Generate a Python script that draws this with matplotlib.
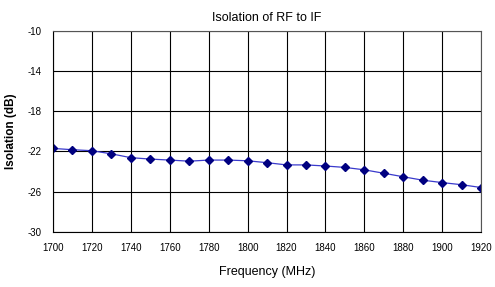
import matplotlib
matplotlib.use('Agg')
import matplotlib.pyplot as plt

freq = [1700, 1710, 1720, 1730, 1740, 1750, 1760, 1770, 1780, 1790, 1800,
        1810, 1820, 1830, 1840, 1850, 1860, 1870, 1880, 1890, 1900, 1910, 1920]
isolation = [-21.7, -21.83, -21.93, -22.24, -22.62, -22.76, -22.86, -22.97, -22.86, -22.86, -22.93,
             -23.12, -23.34, -23.34, -23.45, -23.59, -23.83, -24.17, -24.52, -24.86, -25.1, -25.31, -25.59]
x_ticks = list(range(1700, 1921, 20))
y_ticks = [-30, -26, -22, -18, -14, -10]

plt.rcParams['axes.unicode_minus'] = False
plt.rcParams['font.family'] = ['Liberation Sans', 'DejaVu Sans']

fig = plt.figure(figsize=(4.95, 2.87), dpi=100)
ax = fig.add_axes([0.107, 0.192, 0.865, 0.701])

ax.plot(freq, isolation, color='#3a3acc', linewidth=0.9,
        marker='D', markersize=3.6, markerfacecolor='#000080', markeredgecolor='#000080')

ax.set_xlim(1700, 1920)
ax.set_ylim(-30, -10)
ax.set_xticks(x_ticks)
ax.set_yticks(y_ticks)
ax.grid(True, color='black', linewidth=0.8)
ax.tick_params(length=0, labelsize=7, pad=8)
for s in ax.spines.values():
    s.set_color('#555555')
    s.set_linewidth(0.8)
ax.spines['left'].set_color('black')
ax.spines['bottom'].set_color('black')

ax.set_title('Isolation of RF to IF', fontsize=9, pad=7)
ax.set_xlabel('Frequency (MHz)', fontsize=9, labelpad=9)
ax.set_ylabel('Isolation (dB)', fontsize=8.5, fontweight='bold', labelpad=8)

fig.savefig('out.png', dpi=100)
